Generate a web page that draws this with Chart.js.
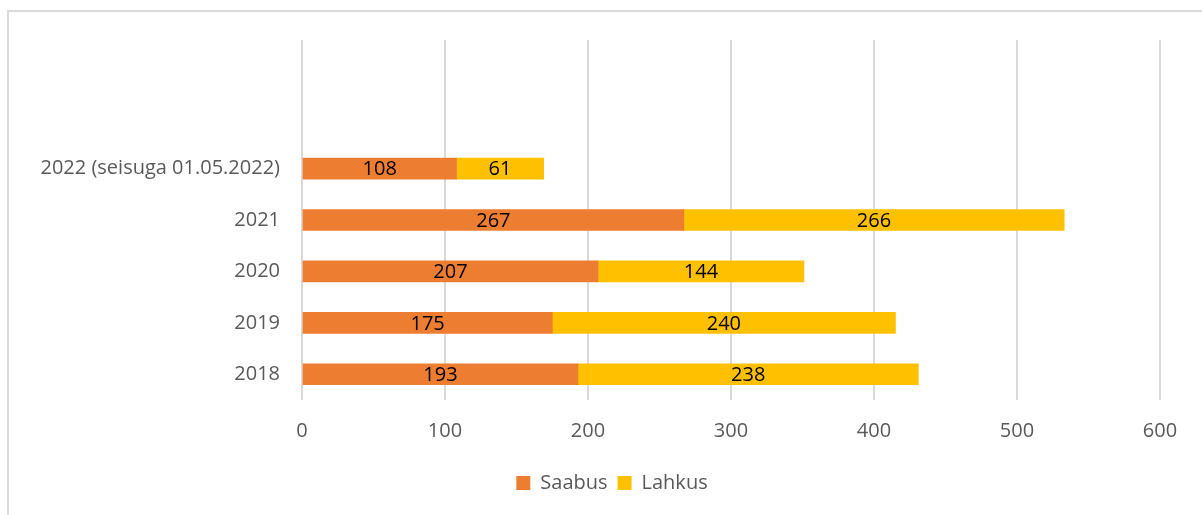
<!DOCTYPE html>
<html>
<head>
<meta charset="utf-8">
<script src="https://cdn.jsdelivr.net/npm/chart.js@4"></script>
<style>
  html, body { margin: 0; padding: 0; background: #fff; overflow: hidden; }
  #wrap { position: relative; width: 1202px; height: 515px; }
</style>
</head>
<body>
<div id="wrap"><canvas id="chart" width="1202" height="515"></canvas></div>
<script>
// two blank rows on top, like the original sheet range
const categories = ['', '', '2022 (seisuga 01.05.2022)', '2021', '2020', '2019', '2018'];
const saabus = [null, null, 108, 267, 207, 175, 193];
const lahkus = [null, null, 61, 266, 144, 240, 238];
const xTicks = [0, 100, 200, 300, 400, 500, 600];

const FONT = "'Open Sans', 'Noto Sans', sans-serif";

// outer chart frame (only top and left edges fall inside the picture)
// and legend centred on the whole frame rather than the padded area
const framePlugin = {
    id: 'frame',
    afterLayout(chart) {
        chart.legend.left += 32;
        chart.legend.right += 32;
    },
    beforeDraw(chart) {
        const ctx = chart.ctx;
        ctx.save();
        ctx.strokeStyle = '#d9d9d9';
        ctx.lineWidth = 2;
        ctx.beginPath();
        ctx.moveTo(8, 515);
        ctx.lineTo(8, 11);
        ctx.lineTo(1202, 11);
        ctx.stroke();
        ctx.restore();
    }
};

// values centred inside each bar segment
const barLabels = {
    id: 'barLabels',
    afterDatasetsDraw(chart) {
        const ctx = chart.ctx;
        ctx.save();
        ctx.font = '20px ' + FONT;
        ctx.fillStyle = '#000';
        ctx.textAlign = 'center';
        ctx.textBaseline = 'middle';
        chart.data.datasets.forEach((ds, i) => {
            chart.getDatasetMeta(i).data.forEach((bar, j) => {
                const v = ds.data[j];
                if (v == null) return;
                ctx.fillText(String(v), (bar.x + bar.base) / 2, bar.y + 1);
            });
        });
        ctx.restore();
    }
};

new Chart(document.getElementById('chart'), {
    type: 'bar',
    data: {
        labels: categories,
        datasets: [{
            label: 'Saabus',
            data: saabus,
            backgroundColor: '#ED7D31',
            barThickness: 21
        }, {
            label: 'Lahkus',
            data: lahkus,
            backgroundColor: '#FFC000',
            barThickness: 21
        }]
    },
    options: {
        indexAxis: 'y',
        responsive: false,
        animation: false,
        layout: { padding: { top: 40, right: 42, bottom: 12, left: 0 } },
        scales: {
            x: {
                stacked: true,
                min: 0,
                max: 600,
                afterBuildTicks(scale) {
                    scale.ticks = xTicks.map(v => ({ value: v }));
                },
                afterFit(scale) { scale.height = 63; },
                grid: { color: '#d9d9d9', lineWidth: 2, drawTicks: false },
                border: { display: false },
                ticks: {
                    padding: 19,
                    color: '#595959',
                    font: { family: FONT, size: 20 }
                }
            },
            y: {
                stacked: true,
                afterFit(scale) { scale.width = 302; },
                grid: { display: false, drawTicks: false },
                border: { display: false },
                ticks: {
                    padding: 22,
                    color: '#595959',
                    font: { family: FONT, size: 20 }
                }
            }
        },
        plugins: {
            legend: {
                position: 'bottom',
                labels: {
                    boxWidth: 14,
                    boxHeight: 14,
                    padding: 10,
                    color: '#595959',
                    font: { family: FONT, size: 20 }
                }
            },
            tooltip: { enabled: false }
        }
    },
    plugins: [framePlugin, barLabels]
});
</script>
</body>
</html>
